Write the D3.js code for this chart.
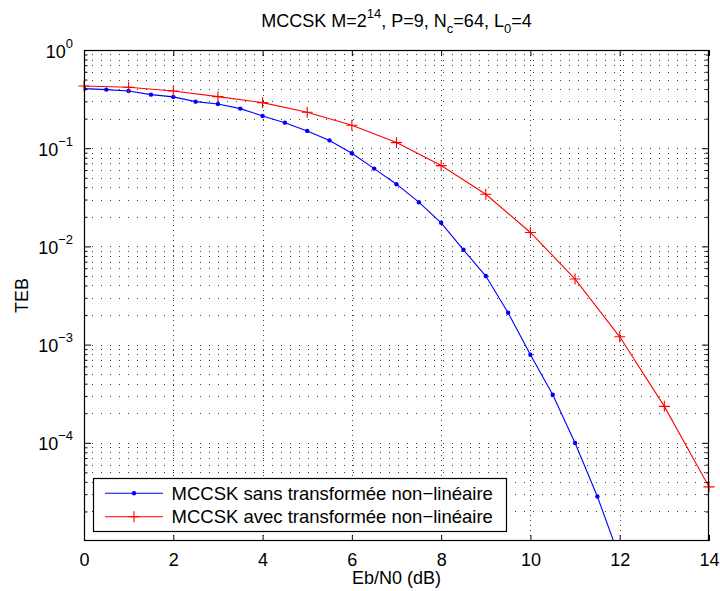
<!DOCTYPE html>
<html><head><meta charset="utf-8">
<script src="https://cdn.jsdelivr.net/npm/d3@7"></script>
<style>body{margin:0;background:#fff}svg{display:block}text{font-family:"Liberation Sans",Arial,Helvetica,sans-serif;fill:#000}</style>
</head><body><svg id="c" width="720" height="591"></svg>
<script>
// ---- data ----
const blueX = [0,0.5,1,1.5,2,2.5,3,3.5,4,4.5,5,5.5,6,6.5,7,7.5,8,8.5,9,9.5,10,10.5,11,11.5,12];
const blueY = [0.404,0.395,0.383,0.351,0.333,0.298,0.282,0.253,0.213,0.182,0.150,0.120,0.0889,0.0620,0.0430,0.0282,0.0174,0.00923,0.00499,0.00211,0.000789,0.000309,0.0000997,0.0000284,0.0000067];
const redX = [0,1,2,3,4,5,6,7,8,9,10,11,12,13,14];
const redY = [0.43,0.417,0.383,0.335,0.291,0.232,0.171,0.114,0.0665,0.034,0.01386,0.00465,0.0012,0.000235,0.0000356];
const xTicks = [0,2,4,6,8,10,12,14];
const yExponents = [0,-1,-2,-3,-4];
const seriesNames = ["MCCSK sans transformée non\u2212linéaire","MCCSK avec transformée non\u2212linéaire"];

// ---- layout ----
const L=84,R=709,T=50,B=541;
const svg=d3.select("#c");
const x=d3.scaleLinear().domain([0,14]).range([L,R]);
const y=d3.scaleLog().domain([1e-5,1]).range([B,T]);

// minor tick values
const minor=[];
for(let e=-5;e<0;e++){for(let m=2;m<=9;m++){minor.push(m*Math.pow(10,e));}}
const decades=yExponents.map(e=>Math.pow(10,e));

// grid
const grid=svg.append("g").attr("stroke","#000").attr("stroke-width",1).attr("fill","none");
[...decades,...minor].forEach(v=>{
  if(v>=1||v<=1e-5)return;
  grid.append("line").attr("x1",L).attr("x2",R).attr("y1",Math.round(y(v))+0.5).attr("y2",Math.round(y(v))+0.5)
    .attr("stroke-dasharray","1,8").attr("stroke-dashoffset",-8).attr("stroke-opacity",0.75);
});
xTicks.forEach(v=>{
  if(v===0||v===14)return;
  grid.append("line").attr("y1",T).attr("y2",B).attr("x1",Math.round(x(v))+0.5).attr("x2",Math.round(x(v))+0.5)
    .attr("stroke-dasharray","1,4").attr("stroke-opacity",0.75);
});

// clip
svg.append("clipPath").attr("id","clip").append("rect").attr("x",L).attr("y",T).attr("width",R-L).attr("height",B-T);

// series
const line=d3.line().x(d=>x(d[0])).y(d=>y(d[1]));
const blue=blueX.map((v,i)=>[v,blueY[i]]);
const red=redX.map((v,i)=>[v,redY[i]]);
const plot=svg.append("g").attr("clip-path","url(#clip)");
plot.append("path").datum(blue).attr("d",line).attr("fill","none").attr("stroke","#0000ff").attr("stroke-width",1.1);
plot.append("path").datum(red).attr("d",line).attr("fill","none").attr("stroke","#ff0000").attr("stroke-width",1.1);
plot.selectAll(".bm").data(blue).enter().append("circle").attr("cx",d=>x(d[0])).attr("cy",d=>y(d[1])).attr("r",2.2).attr("fill","#0000ff");
const plusPath=s=>`M${-s},0H${s}M0,${-s}V${s}`;
svg.append("clipPath").attr("id","clip2").append("rect").attr("x",L-10).attr("y",T).attr("width",R-L+20).attr("height",B-T);
svg.append("g").attr("clip-path","url(#clip2)").selectAll(".rm").data(red).enter().append("path")
  .attr("transform",d=>`translate(${x(d[0])},${y(d[1])})`).attr("d",plusPath(5.5)).attr("stroke","#ff0000").attr("stroke-width",1.1).attr("fill","none");

// axes box
svg.append("rect").attr("x",L+0.5).attr("y",T+0.5).attr("width",R-L-1).attr("height",B-T-1).attr("fill","none").attr("stroke","#000").attr("stroke-width",1.2);

// x axes (bottom + top ticks inside)
const xb=svg.append("g").attr("transform",`translate(0,${B})`).call(d3.axisBottom(x).tickValues(xTicks).tickSizeInner(-6).tickSizeOuter(0).tickPadding(12).tickFormat(d3.format("d")));
const xt=svg.append("g").attr("transform",`translate(0,${T})`).call(d3.axisTop(x).tickValues(xTicks).tickSizeInner(-6).tickSizeOuter(0).tickFormat(""));
[xb,xt].forEach(g=>{g.select(".domain").remove();g.selectAll("line").attr("stroke","#000").attr("stroke-width",1);});
xb.selectAll("text").attr("font-size",18).attr("font-family","Liberation Sans, Arial, sans-serif").attr("fill","#000").attr("dy","0.71em");

// y axes
const yl=svg.append("g").attr("transform",`translate(${L},0)`).call(d3.axisLeft(y).tickValues(decades).tickSizeInner(-7).tickSizeOuter(0).tickPadding(11).tickFormat(()=>"10"));
const yr=svg.append("g").attr("transform",`translate(${R},0)`).call(d3.axisRight(y).tickValues(decades).tickSizeInner(-7).tickSizeOuter(0).tickFormat(""));
const ylm=svg.append("g").attr("transform",`translate(${L},0)`).call(d3.axisLeft(y).tickValues(minor).tickSizeInner(-3.5).tickSizeOuter(0).tickFormat(""));
const yrm=svg.append("g").attr("transform",`translate(${R},0)`).call(d3.axisRight(y).tickValues(minor).tickSizeInner(-3.5).tickSizeOuter(0).tickFormat(""));
[yl,yr,ylm,yrm].forEach(g=>{g.select(".domain").remove();g.selectAll("line").attr("stroke","#000").attr("stroke-width",1);});
yl.selectAll("text").attr("font-size",18).attr("font-family","Liberation Sans, Arial, sans-serif").attr("fill","#000").attr("dy",7)
  .each(function(d){
    const e=Math.round(Math.log10(d));
    d3.select(this).append("tspan").attr("dy",-10).attr("font-size",13).text(e===0?"0":"\u2212"+(-e));
  });

// labels
svg.append("text").attr("x",(L+R)/2).attr("y",584).attr("text-anchor","middle").attr("font-size",18).text("Eb/N0 (dB)");
svg.append("text").attr("transform",`translate(28,${(T+B)/2}) rotate(-90)`).attr("text-anchor","middle").attr("font-size",18).text("TEB");

// title
const title=svg.append("text").attr("x",(L+R)/2).attr("y",27).attr("text-anchor","middle").attr("font-size",18);
title.append("tspan").text("MCCSK M=2");
title.append("tspan").attr("dy",-9).attr("font-size",13).text("14");
title.append("tspan").attr("dy",9).text(", P=9, N");
title.append("tspan").attr("dy",6).attr("font-size",13).text("c");
title.append("tspan").attr("dy",-6).text("=64, L");
title.append("tspan").attr("dy",6).attr("font-size",13).text("0");
title.append("tspan").attr("dy",-6).text("=4");

// legend
const lg=svg.append("g");
lg.append("rect").attr("x",93.5).attr("y",478.5).attr("width",413).attr("height",53).attr("fill","#fff").attr("stroke","#000").attr("stroke-width",1.2);
const rows=[493.3,516.7];
seriesNames.forEach((n,i)=>{
  const yy=rows[i];
  const col=i===0?"#0000ff":"#ff0000";
  lg.append("line").attr("x1",105).attr("x2",163).attr("y1",yy).attr("y2",yy).attr("stroke",col).attr("stroke-width",1.1);
  if(i===0) lg.append("circle").attr("cx",134).attr("cy",yy).attr("r",2.2).attr("fill",col);
  else lg.append("path").attr("transform",`translate(134,${yy})`).attr("d",plusPath(5.5)).attr("stroke",col).attr("stroke-width",1.1);
  lg.append("text").attr("x",171.5).attr("y",yy+6.5).attr("font-size",18.5).text(n);
});
</script></body></html>
